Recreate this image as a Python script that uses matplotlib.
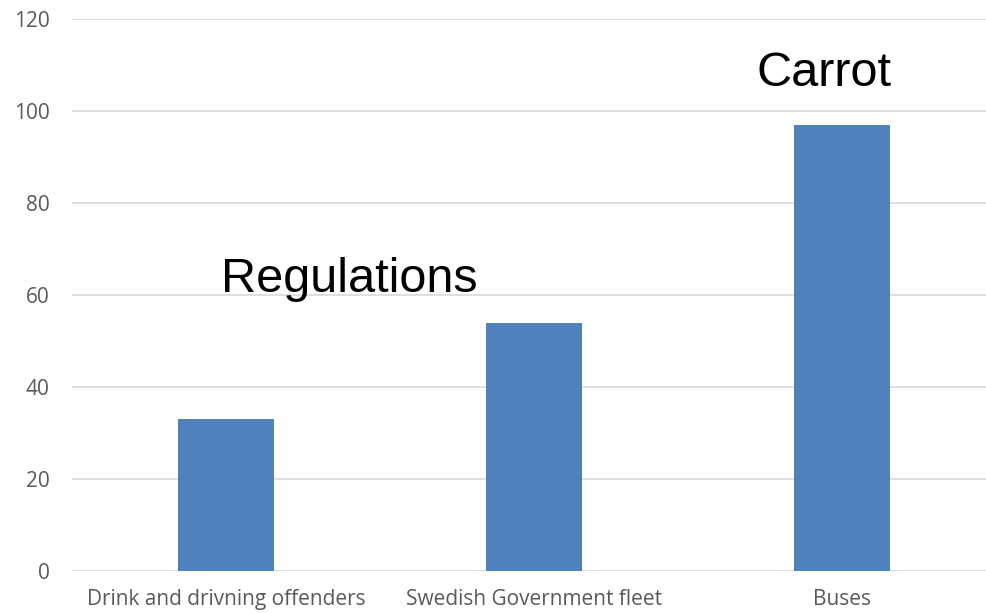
import matplotlib
matplotlib.use("Agg")
from matplotlib import pyplot as plt

categories = ["Drink and drivning offenders", "Swedish Government fleet", "Buses"]
values = [33, 54, 97]
y_ticks = [0, 20, 40, 60, 80, 100, 120]
annotations = ["Regulations", "Carrot"]

fig = plt.figure(figsize=(9.86, 6.13), dpi=100)
ax = fig.add_axes([72 / 986, (613 - 571) / 613, 1 - 72 / 986, (571 - 19) / 613])

x = list(range(len(categories)))
ax.bar(x, values, width=0.31, color="#4f81bd", zorder=3)

ax.set_ylim(0, 120)
ax.set_xlim(-0.5, 2.4675)
ax.set_yticks(y_ticks)
ax.set_xticks(x)
ax.set_xticklabels(categories)
ax.grid(axis="y", color="#d9d9d9", linewidth=1.2, zorder=0)
for side in ["top", "right", "left", "bottom"]:
    ax.spines[side].set_visible(False)
ax.tick_params(length=0, labelsize=15, labelcolor="#595959")
ax.tick_params(axis="y", pad=16)
ax.tick_params(axis="x", pad=13)
for lbl in ax.get_xticklabels() + ax.get_yticklabels():
    lbl.set_family("Open Sans")

# Ремарки на графике
ax.text(0.40, 60.7, annotations[0], ha="center", va="baseline",
        fontsize=35, family="Liberation Sans", color="black")
ax.text(1.94, 105.4, annotations[1], ha="center", va="baseline",
        fontsize=35, family="Liberation Sans", color="black")

fig.savefig("out.png", dpi=100)
